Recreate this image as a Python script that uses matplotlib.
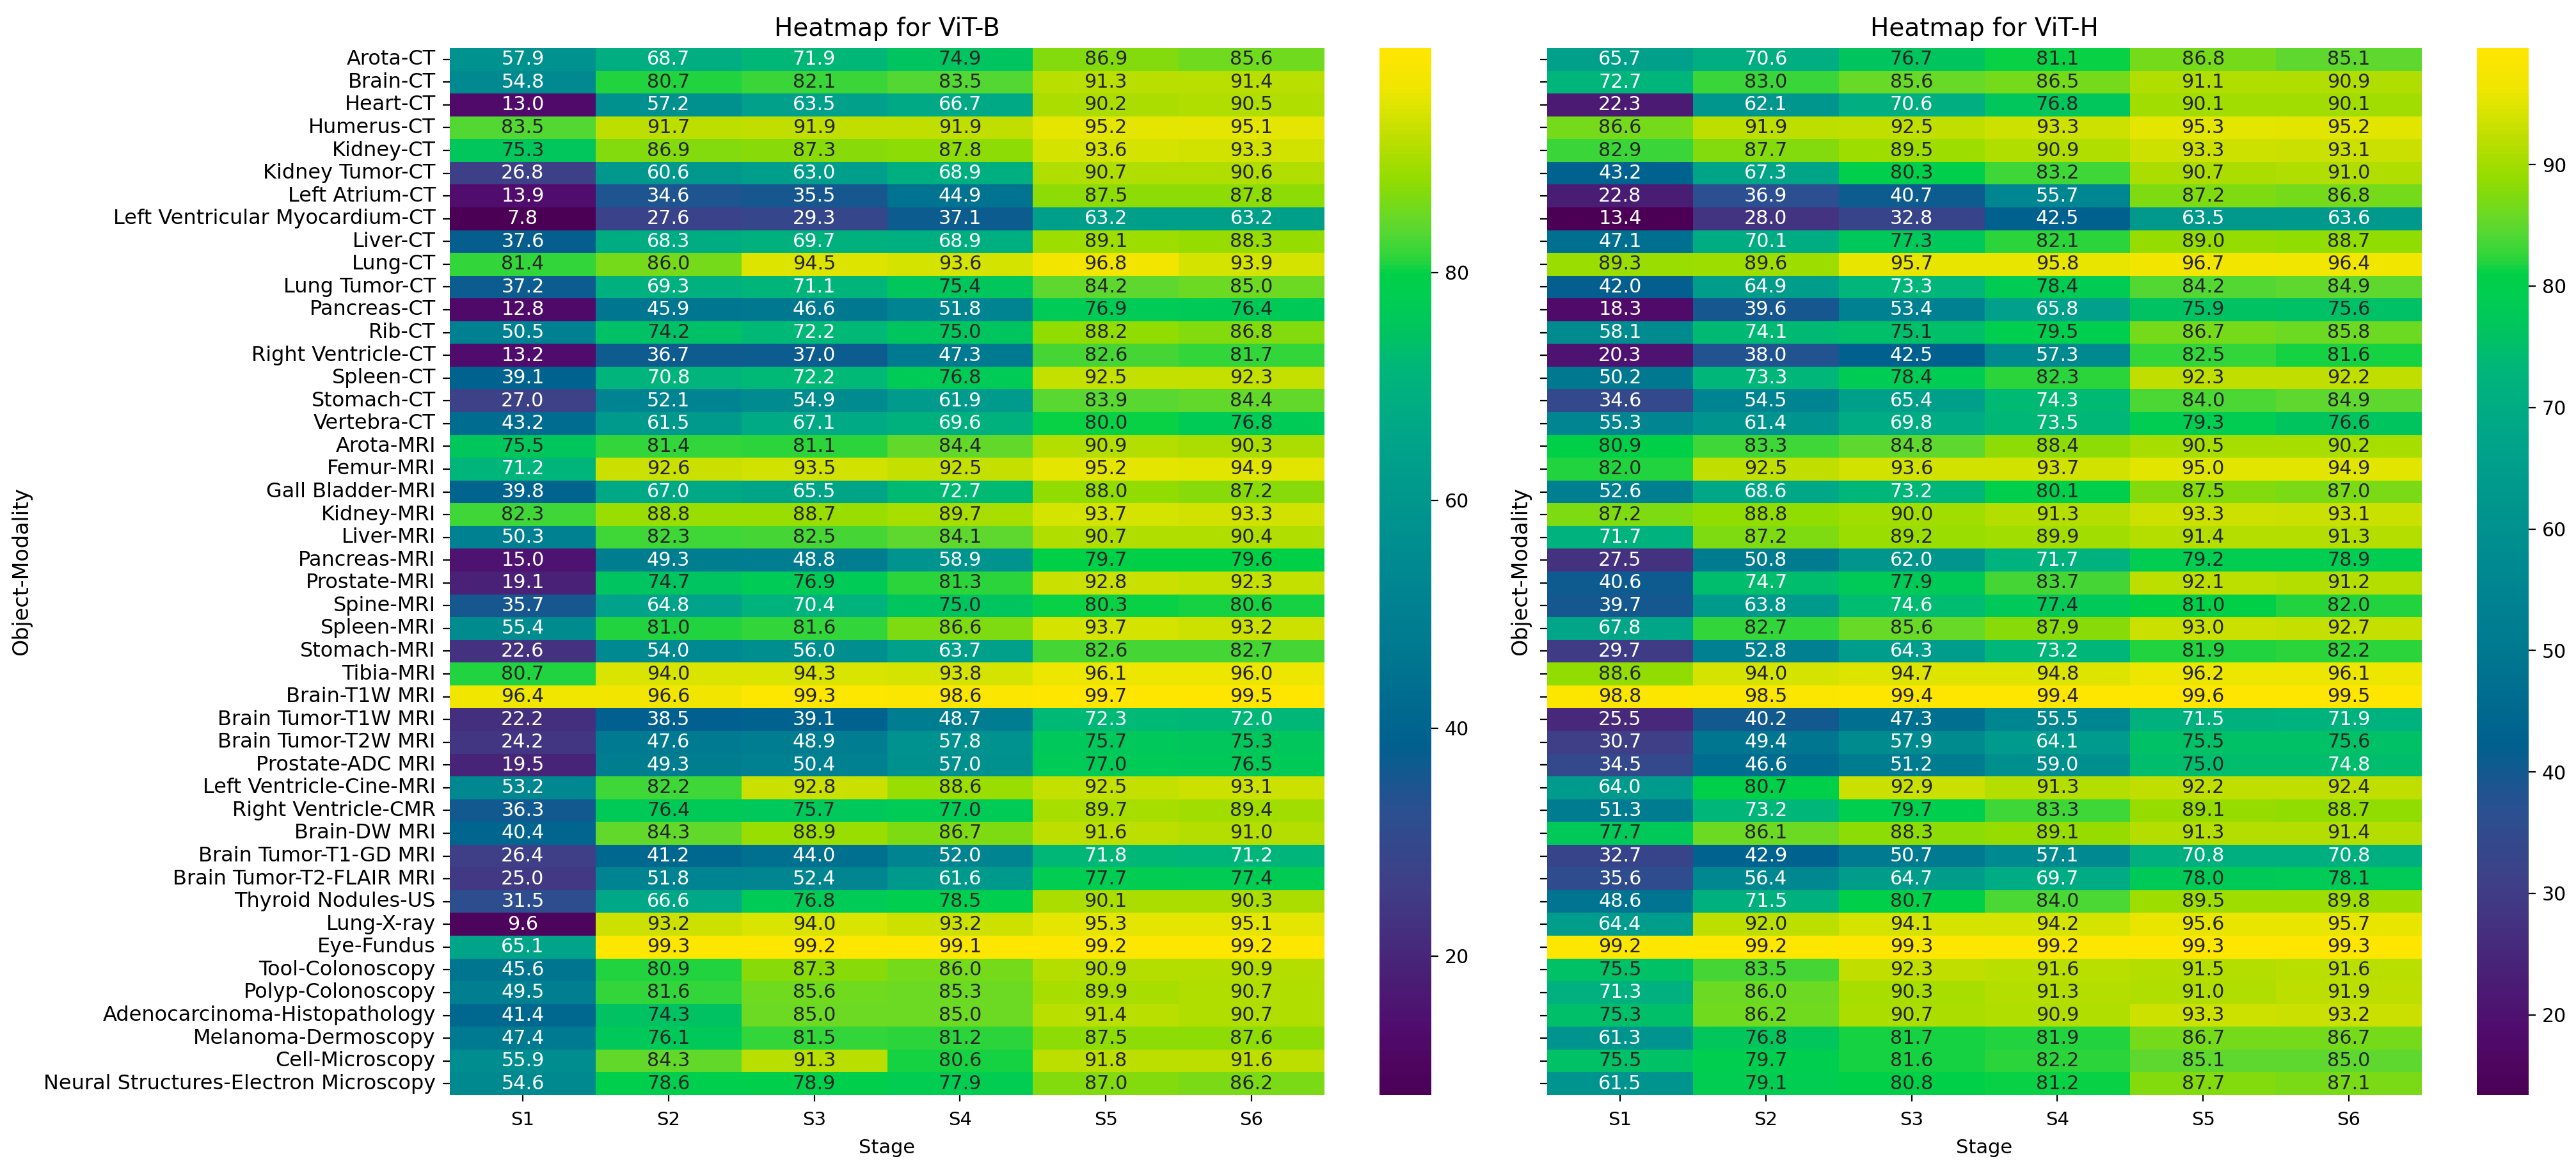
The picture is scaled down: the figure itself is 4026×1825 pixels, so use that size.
import matplotlib
matplotlib.use("Agg")
import matplotlib.pyplot as plt
import numpy as np
import pandas as pd
import seaborn as sns
from matplotlib.colors import LinearSegmentedColormap

stages = ["S1", "S2", "S3", "S4", "S5", "S6"]

objects = ["Arota-CT", "Brain-CT", "Heart-CT", "Humerus-CT", "Kidney-CT", "Kidney Tumor-CT",
           "Left Atrium-CT", "Left Ventricular Myocardium-CT", "Liver-CT", "Lung-CT",
           "Lung Tumor-CT", "Pancreas-CT", "Rib-CT", "Right Ventricle-CT", "Spleen-CT",
           "Stomach-CT", "Vertebra-CT", "Arota-MRI", "Femur-MRI", "Gall Bladder-MRI",
           "Kidney-MRI", "Liver-MRI", "Pancreas-MRI", "Prostate-MRI", "Spine-MRI",
           "Spleen-MRI", "Stomach-MRI", "Tibia-MRI", "Brain-T1W MRI", "Brain Tumor-T1W MRI",
           "Brain Tumor-T2W MRI", "Prostate-ADC MRI", "Left Ventricle-Cine-MRI",
           "Right Ventricle-CMR", "Brain-DW MRI", "Brain Tumor-T1-GD MRI",
           "Brain Tumor-T2-FLAIR MRI", "Thyroid Nodules-US", "Lung-X-ray", "Eye-Fundus",
           "Tool-Colonoscopy", "Polyp-Colonoscopy", "Adenocarcinoma-Histopathology",
           "Melanoma-Dermoscopy", "Cell-Microscopy", "Neural Structures-Electron Microscopy"]

vit_b = [
    [57.9, 68.7, 71.9, 74.9, 86.9, 85.6],
    [54.8, 80.7, 82.1, 83.5, 91.3, 91.4],
    [13.0, 57.2, 63.5, 66.7, 90.2, 90.5],
    [83.5, 91.7, 91.9, 91.9, 95.2, 95.1],
    [75.3, 86.9, 87.3, 87.8, 93.6, 93.3],
    [26.8, 60.6, 63.0, 68.9, 90.7, 90.6],
    [13.9, 34.6, 35.5, 44.9, 87.5, 87.8],
    [7.8, 27.6, 29.3, 37.1, 63.2, 63.2],
    [37.6, 68.3, 69.7, 68.9, 89.1, 88.3],
    [81.4, 86.0, 94.5, 93.6, 96.8, 93.9],
    [37.2, 69.3, 71.1, 75.4, 84.2, 85.0],
    [12.8, 45.9, 46.6, 51.8, 76.9, 76.4],
    [50.5, 74.2, 72.2, 75.0, 88.2, 86.8],
    [13.2, 36.7, 37.0, 47.3, 82.6, 81.7],
    [39.1, 70.8, 72.2, 76.8, 92.5, 92.3],
    [27.0, 52.1, 54.9, 61.9, 83.9, 84.4],
    [43.2, 61.5, 67.1, 69.6, 80.0, 76.8],
    [75.5, 81.4, 81.1, 84.4, 90.9, 90.3],
    [71.2, 92.6, 93.5, 92.5, 95.2, 94.9],
    [39.8, 67.0, 65.5, 72.7, 88.0, 87.2],
    [82.3, 88.8, 88.7, 89.7, 93.7, 93.3],
    [50.3, 82.3, 82.5, 84.1, 90.7, 90.4],
    [15.0, 49.3, 48.8, 58.9, 79.7, 79.6],
    [19.1, 74.7, 76.9, 81.3, 92.8, 92.3],
    [35.7, 64.8, 70.4, 75.0, 80.3, 80.6],
    [55.4, 81.0, 81.6, 86.6, 93.7, 93.2],
    [22.6, 54.0, 56.0, 63.7, 82.6, 82.7],
    [80.7, 94.0, 94.3, 93.8, 96.1, 96.0],
    [96.4, 96.6, 99.3, 98.6, 99.7, 99.5],
    [22.2, 38.5, 39.1, 48.7, 72.3, 72.0],
    [24.2, 47.6, 48.9, 57.8, 75.7, 75.3],
    [19.5, 49.3, 50.4, 57.0, 77.0, 76.5],
    [53.2, 82.2, 92.8, 88.6, 92.5, 93.1],
    [36.3, 76.4, 75.7, 77.0, 89.7, 89.4],
    [40.4, 84.3, 88.9, 86.7, 91.6, 91.0],
    [26.4, 41.2, 44.0, 52.0, 71.8, 71.2],
    [25.0, 51.8, 52.4, 61.6, 77.7, 77.4],
    [31.5, 66.6, 76.8, 78.5, 90.1, 90.3],
    [9.6, 93.2, 94.0, 93.2, 95.3, 95.1],
    [65.1, 99.3, 99.2, 99.1, 99.2, 99.2],
    [45.6, 80.9, 87.3, 86.0, 90.9, 90.9],
    [49.5, 81.6, 85.6, 85.3, 89.9, 90.7],
    [41.4, 74.3, 85.0, 85.0, 91.4, 90.7],
    [47.4, 76.1, 81.5, 81.2, 87.5, 87.6],
    [55.9, 84.3, 91.3, 80.6, 91.8, 91.6],
    [54.6, 78.6, 78.9, 77.9, 87.0, 86.2],
]

vit_h = [
    [65.7, 70.6, 76.7, 81.1, 86.8, 85.1],
    [72.7, 83.0, 85.6, 86.5, 91.1, 90.9],
    [22.3, 62.1, 70.6, 76.8, 90.1, 90.1],
    [86.6, 91.9, 92.5, 93.3, 95.3, 95.2],
    [82.9, 87.7, 89.5, 90.9, 93.3, 93.1],
    [43.2, 67.3, 80.3, 83.2, 90.7, 91.0],
    [22.8, 36.9, 40.7, 55.7, 87.2, 86.8],
    [13.4, 28.0, 32.8, 42.5, 63.5, 63.6],
    [47.1, 70.1, 77.3, 82.1, 89.0, 88.7],
    [89.3, 89.6, 95.7, 95.8, 96.7, 96.4],
    [42.0, 64.9, 73.3, 78.4, 84.2, 84.9],
    [18.3, 39.6, 53.4, 65.8, 75.9, 75.6],
    [58.1, 74.1, 75.1, 79.5, 86.7, 85.8],
    [20.3, 38.0, 42.5, 57.3, 82.5, 81.6],
    [50.2, 73.3, 78.4, 82.3, 92.3, 92.2],
    [34.6, 54.5, 65.4, 74.3, 84.0, 84.9],
    [55.3, 61.4, 69.8, 73.5, 79.3, 76.6],
    [80.9, 83.3, 84.8, 88.4, 90.5, 90.2],
    [82.0, 92.5, 93.6, 93.7, 95.0, 94.9],
    [52.6, 68.6, 73.2, 80.1, 87.5, 87.0],
    [87.2, 88.8, 90.0, 91.3, 93.3, 93.1],
    [71.7, 87.2, 89.2, 89.9, 91.4, 91.3],
    [27.5, 50.8, 62.0, 71.7, 79.2, 78.9],
    [40.6, 74.7, 77.9, 83.7, 92.1, 91.2],
    [39.7, 63.8, 74.6, 77.4, 81.0, 82.0],
    [67.8, 82.7, 85.6, 87.9, 93.0, 92.7],
    [29.7, 52.8, 64.3, 73.2, 81.9, 82.2],
    [88.6, 94.0, 94.7, 94.8, 96.2, 96.1],
    [98.8, 98.5, 99.4, 99.4, 99.6, 99.5],
    [25.5, 40.2, 47.3, 55.5, 71.5, 71.9],
    [30.7, 49.4, 57.9, 64.1, 75.5, 75.6],
    [34.5, 46.6, 51.2, 59.0, 75.0, 74.8],
    [64.0, 80.7, 92.9, 91.3, 92.2, 92.4],
    [51.3, 73.2, 79.7, 83.3, 89.1, 88.7],
    [77.7, 86.1, 88.3, 89.1, 91.3, 91.4],
    [32.7, 42.9, 50.7, 57.1, 70.8, 70.8],
    [35.6, 56.4, 64.7, 69.7, 78.0, 78.1],
    [48.6, 71.5, 80.7, 84.0, 89.5, 89.8],
    [64.4, 92.0, 94.1, 94.2, 95.6, 95.7],
    [99.2, 99.2, 99.3, 99.2, 99.3, 99.3],
    [75.5, 83.5, 92.3, 91.6, 91.5, 91.6],
    [71.3, 86.0, 90.3, 91.3, 91.0, 91.9],
    [75.3, 86.2, 90.7, 90.9, 93.3, 93.2],
    [61.3, 76.8, 81.7, 81.9, 86.7, 86.7],
    [75.5, 79.7, 81.6, 82.2, 85.1, 85.0],
    [61.5, 79.1, 80.8, 81.2, 87.7, 87.1],
]

cmap = LinearSegmentedColormap.from_list("viridis_sat", [
    (0.0, "#4b0055"), (0.06, "#500c6c"), (0.2, "#3f3f87"), (0.273, "#2a5090"),
    (0.335, "#00608f"), (0.43, "#007a90"), (0.48, "#008491"), (0.59, "#009b8c"),
    (0.645, "#00a986"), (0.7, "#00b878"), (0.73, "#00c45f"), (0.755, "#00cc55"),
    (0.785, "#00d048"), (0.8, "#2cd43c"), (0.83, "#5cd830"), (0.875, "#92dc00"),
    (0.925, "#c8e000"), (0.94, "#d8e400"), (0.965, "#f0e600"), (1.0, "#ffe600"),
])

W, H = 4026, 1825
fig = plt.figure(figsize=(W / 200, H / 200), dpi=200)


def box(x0, x1, y0=75, y1=1711):
    return [x0 / W, 1 - y1 / H, (x1 - x0) / W, (y1 - y0) / H]


panels = [("Heatmap for ViT-B", vit_b, 703, 2070, 2156, 2237, 50, True),
          ("Heatmap for ViT-H", vit_h, 2418, 3785, 3871, 3952, 2393, False)]

for title, values, x0, x1, c0, c1, label_x, show_labels in panels:
    df = pd.DataFrame(values, index=objects, columns=stages)
    ax = fig.add_axes(box(x0, x1))
    cax = fig.add_axes(box(c0, c1))
    sns.heatmap(df, annot=True, fmt=".1f", cmap=cmap, ax=ax, cbar_ax=cax,
                annot_kws={"size": 10.9})

    # white labels up to this share of the value range
    lo, hi = df.values.min(), df.values.max()
    for t, v in zip(ax.texts, df.values.ravel()):
        t.set_color(".15" if (v - lo) / (hi - lo) > 0.7135 else "w")

    ax.set_title(title, fontsize=14, pad=6.8)
    ax.set_xlabel("Stage", fontsize=11, labelpad=5.5)
    ax.set_ylabel("Object-Modality", fontsize=12)
    ax.tick_params(axis="x", labelsize=10.5, pad=5.5)
    ax.tick_params(axis="y", labelsize=11.5, length=4, pad=4)
    ax.set_yticks(np.arange(len(objects)) + 0.5)
    if show_labels:
        ax.set_yticklabels(objects, rotation=0)
    else:
        ax.set_yticklabels([])
    ax.yaxis.set_label_coords((label_x - x0) / (x1 - x0), 0.5)
    cax.tick_params(labelsize=10.8, length=4)

fig.savefig("out.png", dpi=200)
